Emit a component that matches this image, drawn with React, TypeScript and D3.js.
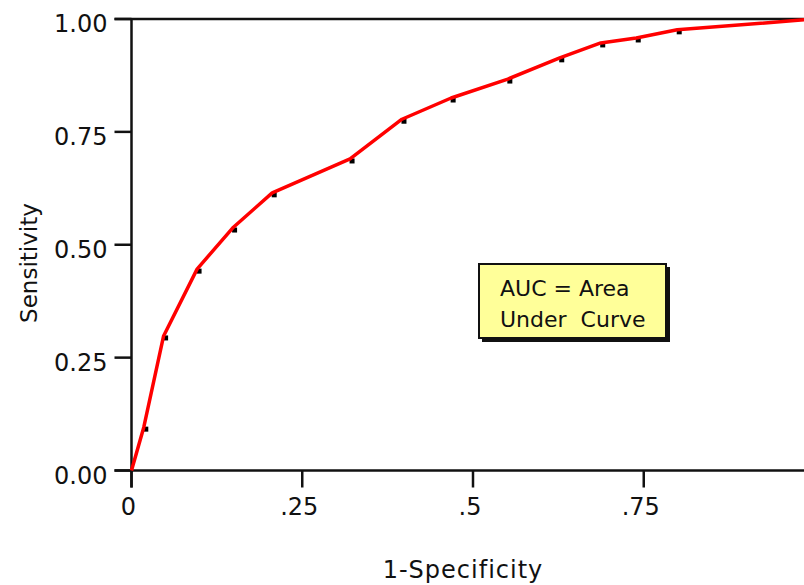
import React from "react";
import { scaleLinear, line } from "d3";

// ROC points (1-specificity, sensitivity)
const fpr = [0, 0.018, 0.047, 0.096, 0.148, 0.206, 0.32, 0.396, 0.468, 0.551, 0.627, 0.687, 0.739, 0.799, 1];
const tpr = [0, 0.096, 0.298, 0.446, 0.537, 0.615, 0.69, 0.778, 0.825, 0.867, 0.914, 0.947, 0.958, 0.976, 1];
const yTicks = [0, 0.25, 0.5, 0.75, 1];
const yTickLabels = ["0.00", "0.25", "0.50", "0.75", "1.00"];
const xTicks = [0, 0.25, 0.5, 0.75];
const xTickLabels = ["0", ".25", ".5", ".75"];

const font = "'DejaVu Sans', Verdana, sans-serif";

const App = () => {
  const width = 804;
  const height = 585;
  const x = scaleLinear().domain([0, 1]).range([131.5, 814.5]);
  const y = scaleLinear().domain([0, 1]).range([470.5, 19]);
  const pts = fpr.map((f, i) => [f, tpr[i]] as [number, number]);
  const path = line<[number, number]>()
    .x((d) => x(d[0]))
    .y((d) => y(d[1]))(pts);
  const tickLen = 17;

  return (
    <svg
      width={width}
      height={height}
      viewBox={`0 0 ${width} ${height}`}
      style={{ position: "absolute", left: 0, top: 0, background: "#fff" }}
    >
      {/* axes */}
      <g stroke="#111" strokeWidth={2.5} fill="none">
        <line x1={x(0)} x2={x(0)} y1={y(1)} y2={y(0) + tickLen} />
        <line x1={x(0) - tickLen} x2={width + 20} y1={y(0)} y2={y(0)} />
        <line x1={x(0) - tickLen} x2={width + 20} y1={y(1)} y2={y(1)} />
        {yTicks.map((t) => (
          <line key={t} x1={x(0) - tickLen} x2={x(0)} y1={y(t)} y2={y(t)} />
        ))}
        {xTicks.map((t) => (
          <line key={t} x1={x(t)} x2={x(t)} y1={y(0)} y2={y(0) + tickLen} />
        ))}
      </g>
      <g fontFamily={font} fontSize={24} fill="#111">
        {yTicks.map((t, i) => (
          <text key={t} x={107.5} y={y(t) + 13} textAnchor="end">
            {yTickLabels[i]}
          </text>
        ))}
        {xTicks.map((t, i) => (
          <text key={t} x={x(t) - 3} y={515} textAnchor="middle">
            {xTickLabels[i]}
          </text>
        ))}
      </g>
      <text
        fontFamily={font}
        fontSize={23}
        fill="#111"
        textAnchor="middle"
        transform={`translate(37,263) rotate(-90)`}
      >
        Sensitivity
      </text>
      <text
        fontFamily={font}
        fontSize={24}
        fill="#111"
        textAnchor="middle"
        letterSpacing={1}
        x={463}
        y={578}
      >
        1-Specificity
      </text>

      {/* markers */}
      {pts.slice(1, -1).map((d, i) => (
        <rect key={i} x={x(d[0]) - 0.5} y={y(d[1]) - 0.5} width={5} height={5} fill="#000" />
      ))}
      <path d={path ?? ""} fill="none" stroke="#ff0000" strokeWidth={3.5} strokeLinejoin="round" />

      {/* annotation box */}
      <rect x={482} y={267} width={188} height={75} fill="#111" />
      <rect x={479} y={264} width={187} height={74} fill="#ffff99" stroke="#111" strokeWidth={2} />
      <g fontFamily={font} fontSize={22} fill="#111">
        <text x={500} y={295.5} xmlSpace="preserve">AUC = Area</text>
        <text x={500} y={326.5} xmlSpace="preserve">{"Under  Curve"}</text>
      </g>
    </svg>
  );
};

export default App;
